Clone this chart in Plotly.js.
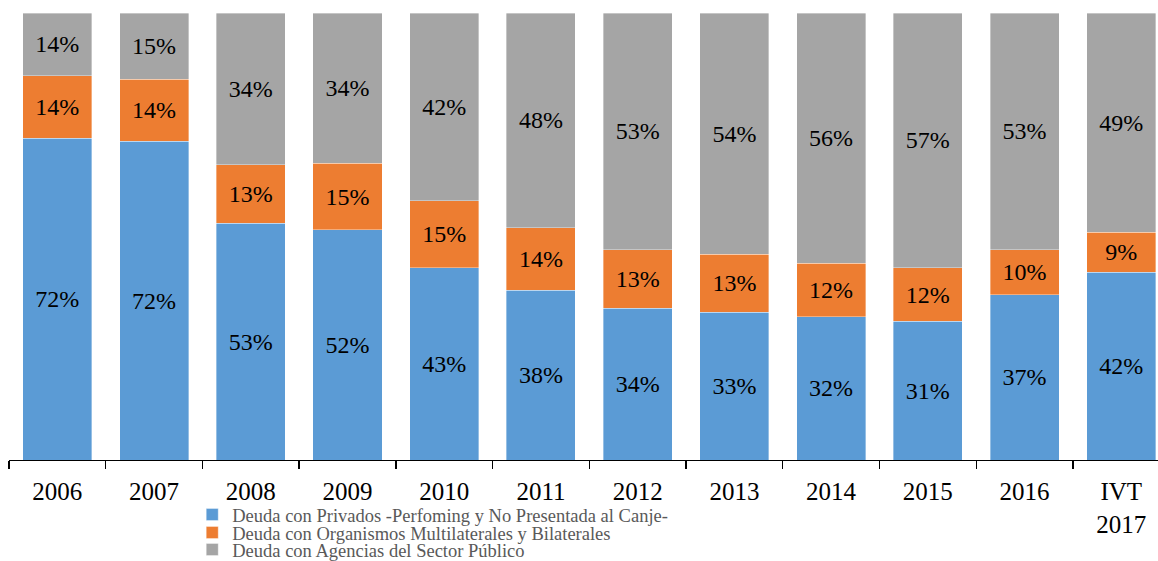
<!DOCTYPE html>
<html>
<head>
<meta charset="utf-8">
<script src="https://cdn.plot.ly/plotly-3.0.1.min.js"></script>
<style>
html,body{margin:0;padding:0;overflow:hidden;background:#fff;}
#chart{width:1158px;height:561px;}
</style>
</head>
<body>
<div id="chart"></div>
<script>
var categories = ['2006','2007','2008','2009','2010','2011','2012','2013','2014','2015','2016','IVT<br>2017'];
var privados   = [72, 72, 53, 52, 43, 38, 34, 33, 32, 31, 37, 42];
var organismos = [14, 14, 13, 15, 15, 14, 13, 13, 12, 12, 10, 9];
var agencias   = [14, 15, 34, 34, 42, 48, 53, 54, 56, 57, 53, 49];
var seriesNames = [
  'Deuda con Privados -Perfoming y No Presentada al Canje-',
  'Deuda con Organismos Multilaterales y Bilaterales',
  'Deuda con Agencias del Sector Público'
];
var colors = ['#5B9BD5', '#ED7D31', '#A5A5A5'];
var seriesValues = [privados, organismos, agencias];
var legendIds = ['legend', 'legend2', 'legend3'];

var serif = 'Liberation Serif, Times New Roman, serif';

var traces = seriesValues.map(function(vals, i){
  return {
    type: 'bar',
    name: seriesNames[i],
    legend: legendIds[i],
    x: categories,
    y: vals,
    text: vals.map(function(v){ return v + '%'; }),
    textposition: 'inside',
    insidetextanchor: 'middle',
    textangle: 0,
    constraintext: 'none',
    textfont: {family: serif, size: 24, color: '#000000'},
    marker: {color: colors[i], line: {color: 'rgba(255,255,255,0.6)', width: 0.6}},
    hoverinfo: 'none'
  };
});

function legendBox(yc){
  return {
    orientation: 'v',
    xref: 'container',
    yref: 'container',
    x: 0.166,
    y: yc,
    xanchor: 'left',
    yanchor: 'middle',
    bgcolor: 'rgba(0,0,0,0)',
    borderwidth: 0,
    font: {family: serif, size: 18.5, color: '#595959'},
    itemwidth: 30
  };
}

var layout = {
  width: 1158,
  height: 561,
  margin: {l: 9, r: 0, t: 13, b: 101, pad: 0, autoexpand: false},
  paper_bgcolor: '#ffffff',
  plot_bgcolor: '#ffffff',
  barmode: 'stack',
  barnorm: 'percent',
  bargap: 0.286,
  showlegend: true,
  font: {family: serif, color: '#000000'},
  xaxis: {
    type: 'category',
    range: [-0.5, 11.38],
    showline: true,
    linecolor: '#000000',
    linewidth: 1.3,
    ticks: 'outside',
    tickson: 'boundaries',
    ticklen: 8,
    tickwidth: 1.3,
    tickcolor: '#000000',
    tickangle: 0,
    ticklabelstandoff: 9,
    showgrid: false,
    zeroline: false,
    automargin: false,
    tickfont: {family: serif, size: 25, color: '#000000'},
    fixedrange: true
  },
  yaxis: {
    range: [0, 100],
    visible: false,
    showgrid: false,
    zeroline: false,
    fixedrange: true
  },
  legend: legendBox(1 - 515/561),
  legend2: legendBox(1 - 533/561),
  legend3: legendBox(1 - 550/561)
};

Plotly.newPlot('chart', traces, layout, {displayModeBar: false, staticPlot: true});
</script>
</body>
</html>
